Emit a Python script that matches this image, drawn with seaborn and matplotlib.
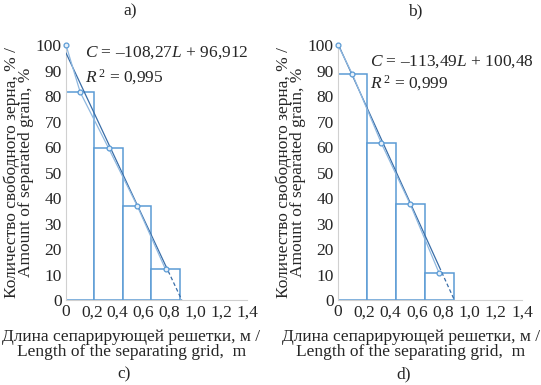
import numpy as np
import pandas as pd
import matplotlib
matplotlib.use('Agg')
import matplotlib.pyplot as plt
import seaborn as sns

# data
bar_centers = [0.11, 0.33, 0.55, 0.77]
point_x = [0, 0.11, 0.33, 0.55, 0.77]
heights_a = [81.5, 59.5, 37, 12]
heights_b = [88.5, 61.5, 37.5, 10.5]
points_a = [100, 81.5, 59.5, 37, 12]
points_b = [100, 88.5, 61.5, 37.5, 10.5]
fit_a = (-108.27, 96.912)
fit_b = (-113.49, 100.48)
eq_a = ['$C$ = \u2013108,27$L$ + 96,912', '$R^{\\,2}$ = 0,995']
eq_b = ['$C$ = \u2013113,49$L$ + 100,48', '$R^{\\,2}$ = 0,999']
xticks = [0, 0.2, 0.4, 0.6, 0.8, 1.0, 1.2, 1.4]
xtick_labels = ['0', '0,2', '0,4', '0,6', '0,8', '1,0', '1,2', '1,4']
yticks = [0, 10, 20, 30, 40, 50, 60, 70, 80, 90, 100]

sns.set_style('white')
plt.rcParams['font.family'] = ['Liberation Serif', 'DejaVu Serif']
plt.rcParams['mathtext.fontset'] = 'custom'
plt.rcParams['mathtext.rm'] = 'Liberation Serif'
plt.rcParams['mathtext.it'] = 'Liberation Serif:italic'

bar_col = '#5b9bd5'
fit_col = '#3a6ea8'
fs = 12.5
ff = 'Liberation Serif'

fig = plt.figure(figsize=(5.41, 3.85), dpi=100)
ax_a = fig.add_axes([0.122, 0.2208, 0.3346, 0.662])
ax_b = fig.add_axes([0.6248, 0.2208, 0.340, 0.662])


def draw(ax, heights, points, fit, eq, eq_pos, bottom, lab_x):
    df = pd.DataFrame({'L': bar_centers, 'C': heights})
    sns.barplot(data=df, x='L', y='C', native_scale=True, width=1,
                color='white', edgecolor=bar_col, linewidth=1.1, ax=ax)
    sns.lineplot(x=point_x, y=points, color='#8fb8e0', linewidth=0.9,
                 marker='o', markersize=3.5, markerfacecolor='#e8f1fa',
                 markeredgecolor=bar_col, markeredgewidth=0.9, ax=ax,
                 clip_on=False, zorder=4)
    k, b = fit
    x0 = -b / k
    xs = np.array([0, point_x[-1]])
    ax.plot(xs, k * xs + b, color=fit_col, linewidth=0.9, zorder=3)
    xs2 = np.array([point_x[-1], x0])
    ax.plot(xs2, k * xs2 + b, color=fit_col, linewidth=0.9,
            linestyle=(0, (3, 2)), zorder=3)
    ax.set_xlim(0, 1.4)
    ax.set_ylim(0, 100)
    ax.set_xticks(xticks)
    ax.set_xticklabels(xtick_labels, family=ff, fontsize=fs)
    ax.set_yticks(yticks)
    ax.set_yticklabels([str(v) for v in yticks], family=ff, fontsize=fs)
    ax.tick_params(length=0, pad=3)
    for s in ['top', 'right']:
        ax.spines[s].set_visible(False)
    for s in ['left', 'bottom']:
        ax.spines[s].set_color('#d0d0d0')
        ax.spines[s].set_linewidth(0.8)
    ax.set_ylabel('Количество свободного зерна, % /\nAmount of separated grain, %',
                  fontsize=fs, family=ff, linespacing=0.9, labelpad=1)
    ax.set_xlabel('Длина сепарирующей решетки, м /\nLength of the separating grid,  m',
                  fontsize=fs, family=ff, linespacing=0.9)
    ax.xaxis.set_label_coords(lab_x, -0.115)
    ex, ey1, ey2 = eq_pos
    ax.text(ex, ey1, eq[0], fontsize=fs, family=ff, va='center', ha='left')
    ax.text(ex, ey2, eq[1], fontsize=fs, family=ff, va='center', ha='left')
    ax.text(lab_x - 0.04, -0.29, bottom, transform=ax.transAxes, fontsize=fs,
            family=ff, ha='center', va='center')


draw(ax_a, heights_a, points_a, fit_a, eq_a, (0.145, 97, 87.5), 'c)', 0.36)
draw(ax_b, heights_b, points_b, fit_b, eq_b, (0.245, 93.5, 85), 'd)', 0.395)
fig.text(130 / 541, 1 - 11 / 385, 'a)', fontsize=fs, family=ff, ha='center', va='center')
fig.text(415 / 541, 1 - 11 / 385, 'b)', fontsize=fs, family=ff, ha='center', va='center')

fig.savefig('out.png', dpi=100)
